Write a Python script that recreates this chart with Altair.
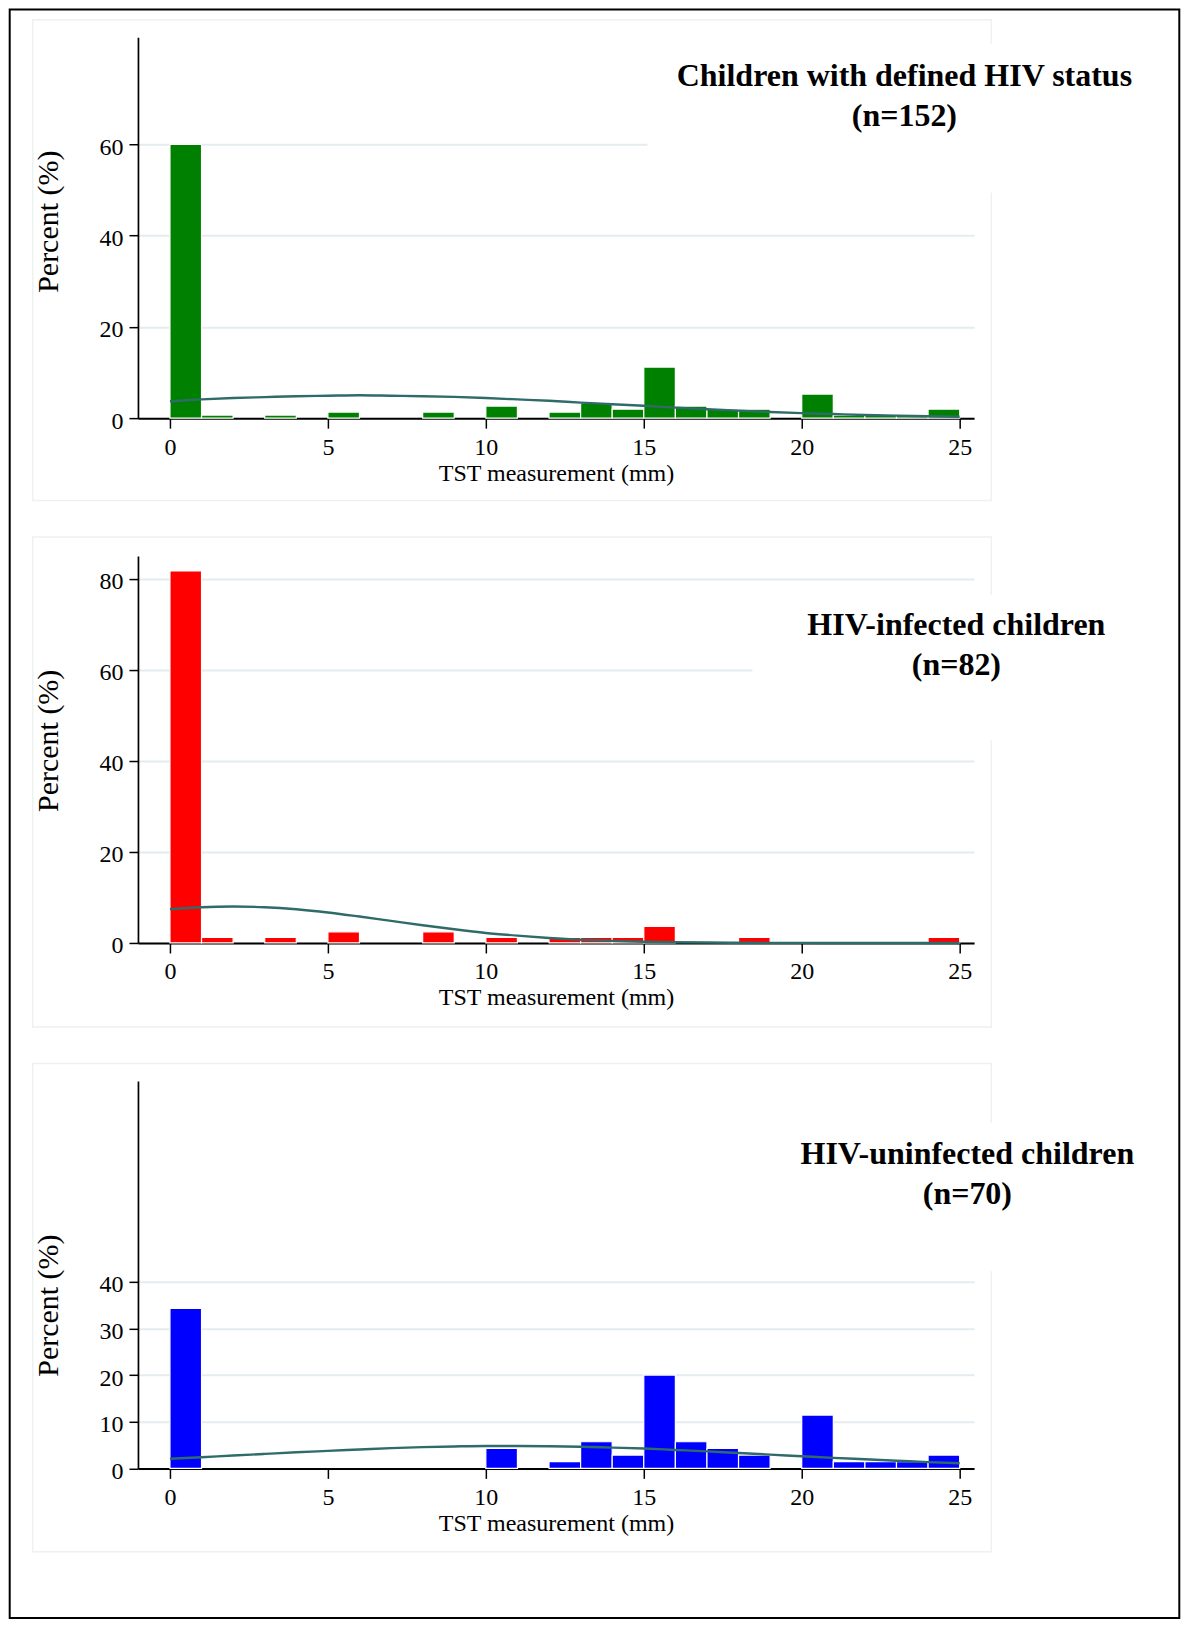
import altair as alt
import pandas as pd

FONT = "Liberation Serif"

# ---------------- data ----------------
bins = list(range(25))  # TST measurement bins (mm), width 1
green_pct = [59.9, 0.66, 0, 0.66, 0, 1.32, 0, 0, 1.32, 0, 2.63, 0, 1.32, 3.29, 1.97,
             11.18, 2.63, 1.97, 1.97, 0, 5.26, 0.66, 0.66, 0.66, 1.97]
red_pct = [81.7, 1.22, 0, 1.22, 0, 2.44, 0, 0, 2.44, 0, 1.22, 0, 1.22, 1.22, 1.22,
           3.66, 0, 0, 1.22, 0, 0, 0, 0, 0, 1.22]
blue_pct = [34.3, 0, 0, 0, 0, 0, 0, 0, 0, 0, 4.29, 0, 1.43, 5.71, 2.86,
            20.0, 5.71, 4.29, 2.86, 0, 11.43, 1.43, 1.43, 1.43, 2.86]

curve_x = list(range(26))
green_curve = [3.7, 4.1, 4.4, 4.6, 4.8, 4.9, 5.0, 4.9, 4.8, 4.65, 4.4, 4.1, 3.8, 3.4,
               3.05, 2.7, 2.3, 1.95, 1.65, 1.35, 1.1, 0.9, 0.7, 0.55, 0.4, 0.3]
red_curve = [7.4, 7.85, 8.0, 7.85, 7.4, 6.7, 5.8, 4.85, 3.9, 3.0, 2.2, 1.6, 1.1, 0.7,
             0.45, 0.27, 0.16, 0.09, 0.05, 0.02, 0.01, 0, 0, 0, 0, 0]
blue_curve = [2.05, 2.4, 2.75, 3.1, 3.45, 3.75, 4.05, 4.35, 4.55, 4.7, 4.8, 4.8, 4.75,
              4.65, 4.45, 4.25, 3.95, 3.65, 3.3, 2.95, 2.6, 2.25, 1.95, 1.65, 1.35, 1.1]

panel_titles = ["Children with defined HIV status", "HIV-infected children", "HIV-uninfected children"]
panel_n = ["(n=152)", "(n=82)", "(n=70)"]
y_ticks = [[0, 20, 40, 60], [0, 20, 40, 60, 80], [0, 10, 20, 30, 40]]
x_ticks = [0, 5, 10, 15, 20, 25]
bar_colors = ["#008000", "#ff0000", "#0000ff"]

# ---------------- layout (pixels) ----------------
W = 836.4
layout = [
    dict(h=381, ymax=83.37, box=(-105.3, 853.7, -17.4, 463.3), cover=(509.7, 1022.7, 6.6, 155.3),
         tx=766.7, ty1=48.6, ty2=88.5, yty=184),
    dict(h=387, ymax=84.96, box=(-105.3, 853.7, -19.0, 471.0), cover=(614.7, 1022.7, 39.3, 184.3),
         tx=818.7, ty1=79.3, ty2=119.3, yty=184.3),
    dict(h=387.6, ymax=83.08, box=(-105.3, 853.7, -17.4, 471.0), cover=(636.7, 1022.7, 42.3, 190.3),
         tx=829.7, ty1=83.3, ty2=123.3, yty=224.3),
]

one = pd.DataFrame({"k": [0]})


def panel(i, pct, curve):
    L = layout[i]
    bars = pd.DataFrame({"lo": bins, "hi": [b + 1 for b in bins], "pct": pct, "base": [0] * len(bins)})
    bars = bars[bars["pct"] > 0]
    line_df = pd.DataFrame({"x": curve_x, "y": curve})

    xs = alt.Scale(domain=[-1.013, 25.456], nice=False, zero=False)
    ys = alt.Scale(domain=[0, L["ymax"]], nice=False, zero=True)
    xaxis = alt.Axis(values=x_ticks, title="TST measurement (mm)", grid=False,
                     domainColor="black", domainWidth=2, tickColor="black", tickWidth=1.5,
                     tickSize=10, labelFont=FONT, labelFontSize=24, labelColor="black",
                     labelBaseline="alphabetic", labelPadding=26, labelFlush=False,
                     labelOverlap=False, titleFont=FONT, titleFontSize=24,
                     titleFontWeight="normal", titleColor="black", titleBaseline="alphabetic",
                     titleX=W / 2, titleY=62)
    yaxis = alt.Axis(values=y_ticks[i], title="Percent (%)", grid=True, gridColor="#e4ecef",
                     gridWidth=2, domainColor="black", domainWidth=1.7, tickColor="black",
                     tickWidth=1.5, tickSize=9, labelFont=FONT, labelFontSize=24,
                     labelColor="black", labelPadding=6, labelOffset=3, labelOverlap=False,
                     labelFlush=False, titleFont=FONT, titleFontSize=30,
                     titleFontWeight="normal", titleColor="black", titleBaseline="alphabetic",
                     titleX=-80, titleY=L["yty"])

    frame = alt.Chart(one).mark_rect(filled=False, stroke="#edf1f2", strokeWidth=1.5).encode(
        x=alt.value(L["box"][0]), x2=alt.value(L["box"][1]),
        y=alt.value(L["box"][2]), y2=alt.value(L["box"][3]))
    cover = alt.Chart(one).mark_rect(fill="white").encode(
        x=alt.value(L["cover"][0]), x2=alt.value(L["cover"][1]),
        y=alt.value(L["cover"][2]), y2=alt.value(L["cover"][3]))
    bar = alt.Chart(bars).mark_rect(fill=bar_colors[i], stroke="white", strokeWidth=1.2).encode(
        x=alt.X("lo:Q", scale=xs, axis=xaxis), x2="hi:Q",
        y=alt.Y("pct:Q", scale=ys, axis=yaxis), y2="base:Q")
    line = alt.Chart(line_df).mark_line(color="#2f6b68", strokeWidth=2.4, interpolate="monotone").encode(
        x=alt.X("x:Q", scale=xs, axis=xaxis), y=alt.Y("y:Q", scale=ys, axis=yaxis))
    t1 = alt.Chart(one).mark_text(text=panel_titles[i], font=FONT, fontSize=32, fontWeight="bold",
                                  align="center", baseline="alphabetic", color="black").encode(
        x=alt.value(L["tx"]), y=alt.value(L["ty1"]))
    t2 = alt.Chart(one).mark_text(text=panel_n[i], font=FONT, fontSize=32, fontWeight="bold",
                                  align="center", baseline="alphabetic", color="black").encode(
        x=alt.value(L["tx"]), y=alt.value(L["ty2"]))
    layers = [frame, cover, bar, line, t1, t2]
    if i == 0:
        border = alt.Chart(one).mark_rect(filled=False, stroke="black", strokeWidth=2).encode(
            x=alt.value(-128.3), x2=alt.value(1041.7), y=alt.value(-27.7), y2=alt.value(1581.3))
        layers.append(border)
    return alt.layer(*layers).properties(width=W, height=L["h"])


chart = alt.vconcat(
    panel(0, green_pct, green_curve),
    panel(1, red_pct, red_curve),
    panel(2, blue_pct, blue_curve),
    spacing=138,
    bounds="flush",
).properties(padding=0, background="white").configure_view(strokeWidth=0)

chart.save("out.html", embed_options={"renderer": "svg", "actions": False})
